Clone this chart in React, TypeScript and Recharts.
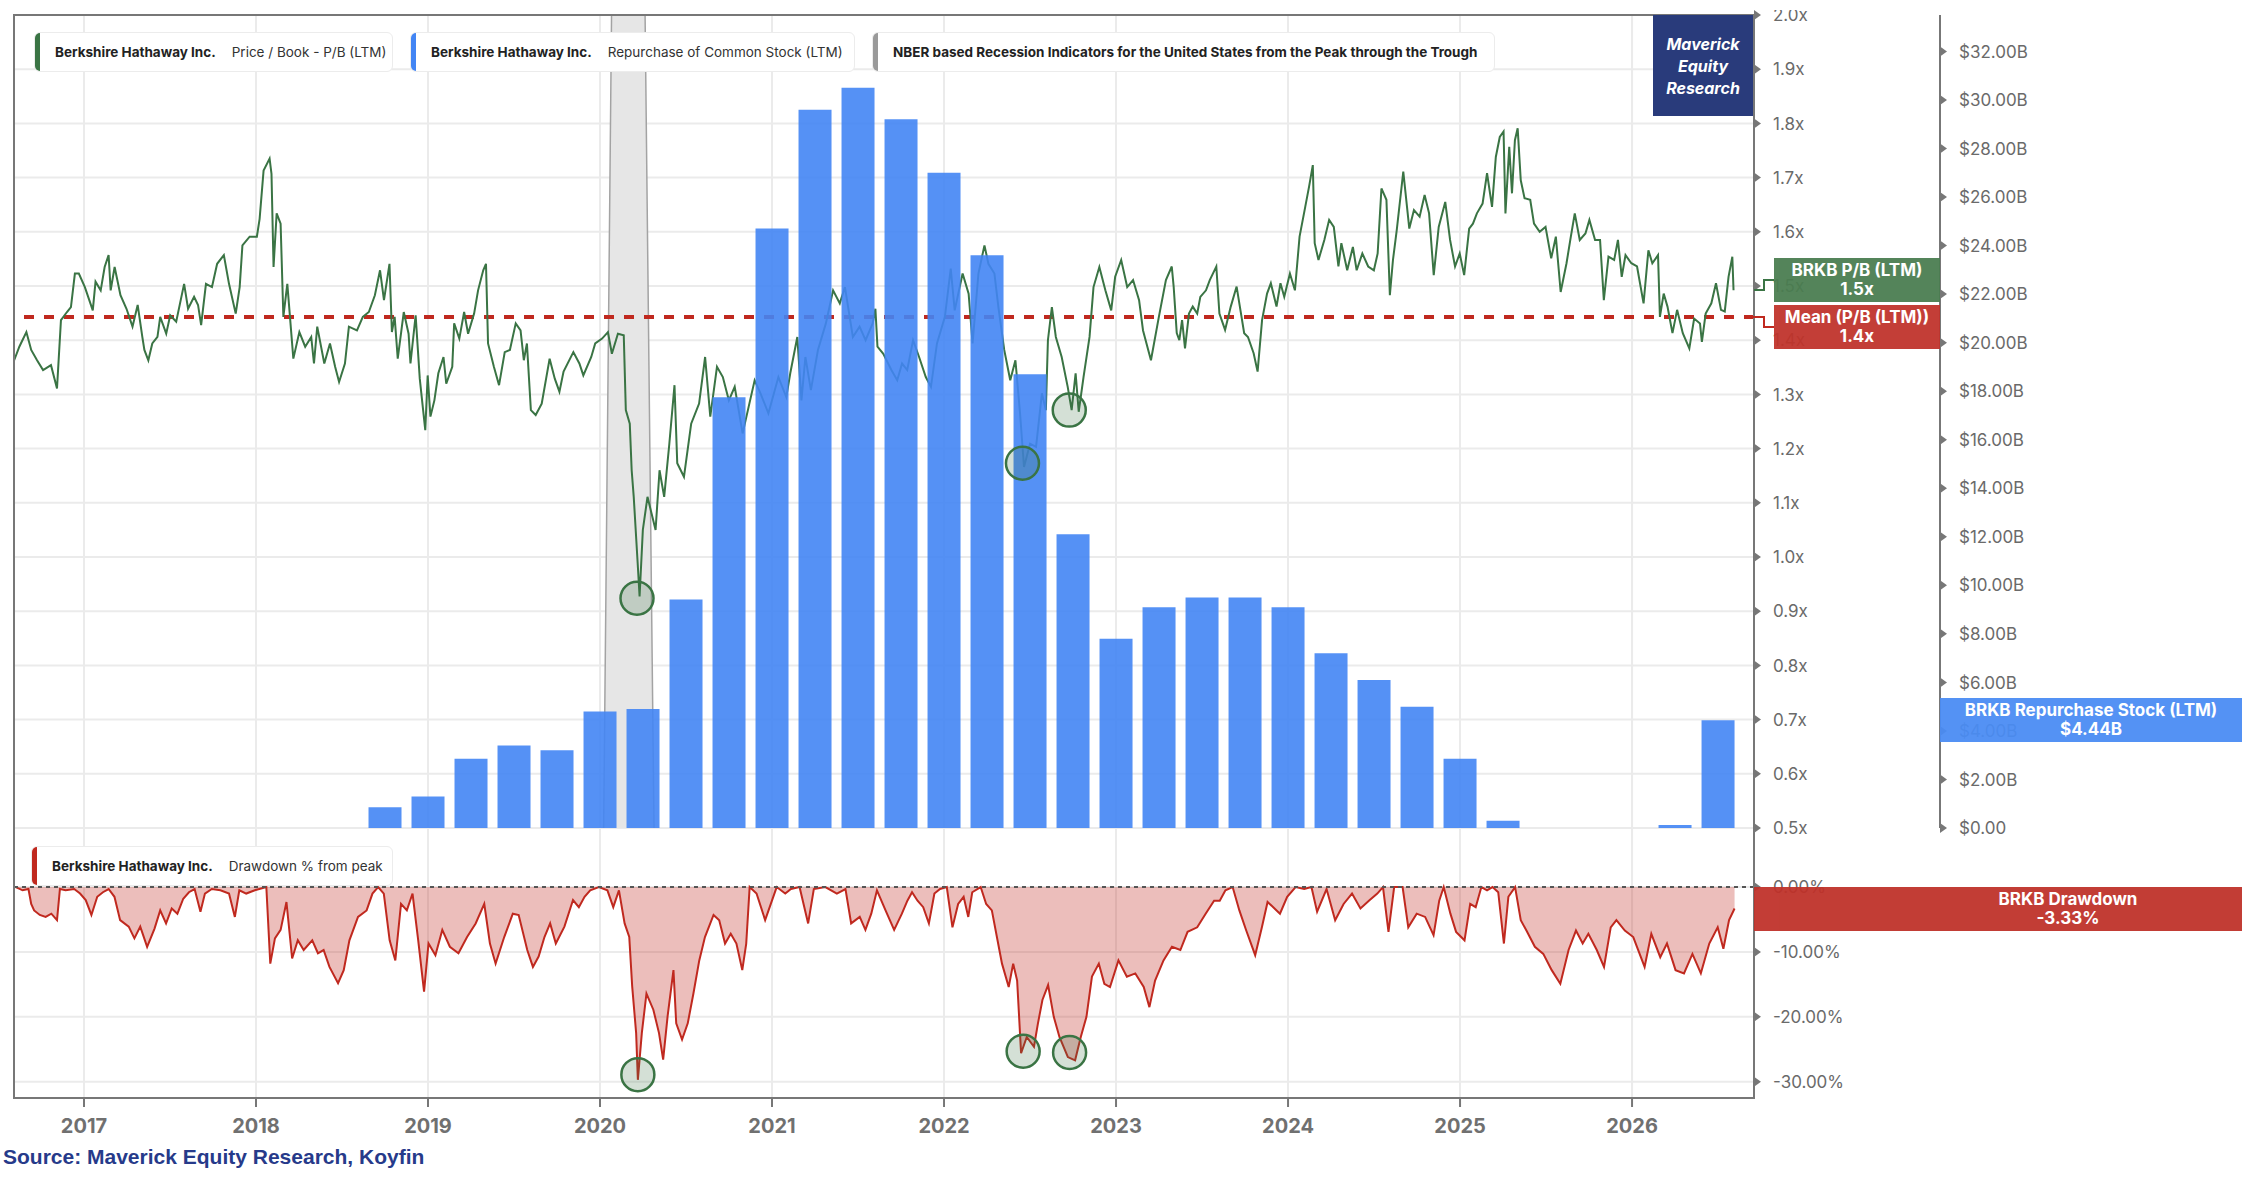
import React from "react";
import {
  ComposedChart,
  Line,
  Area,
  Bar,
  XAxis,
  YAxis,
  CartesianGrid,
  ReferenceLine,
  ReferenceDot,
} from "recharts";

// time axis is in fractional years
const xDomain: [number, number] = [2016.593, 2026.709];
const yearTicks = [2017, 2018, 2019, 2020, 2021, 2022, 2023, 2024, 2025, 2026];
const pbTicks = [0.5, 0.6, 0.7, 0.8, 0.9, 1.0, 1.1, 1.2, 1.3, 1.4, 1.5, 1.6, 1.7, 1.8, 1.9, 2.0];
const buybackTicks = [0, 2, 4, 6, 8, 10, 12, 14, 16, 18, 20, 22, 24, 26, 28, 30, 32];
const drawdownTicks = [0, -10, -20, -30];

const pbMean = 1.443;

// Price / Book (LTM)
const priceToBook: [number, number][] = [
  [2016.594, 1.363], [2016.624, 1.388], [2016.665, 1.415], [2016.693, 1.382], [2016.727, 1.363],
  [2016.762, 1.345], [2016.808, 1.354], [2016.843, 1.311], [2016.866, 1.437], [2016.901, 1.452],
  [2016.924, 1.461], [2016.947, 1.523], [2016.97, 1.523], [2017.005, 1.498], [2017.051, 1.455],
  [2017.067, 1.508], [2017.097, 1.492], [2017.12, 1.535], [2017.143, 1.557], [2017.155, 1.492],
  [2017.178, 1.535], [2017.212, 1.483], [2017.247, 1.458], [2017.282, 1.425], [2017.312, 1.465],
  [2017.339, 1.406], [2017.351, 1.382], [2017.374, 1.363], [2017.397, 1.394], [2017.427, 1.406],
  [2017.443, 1.443], [2017.478, 1.412], [2017.501, 1.446], [2017.536, 1.434], [2017.582, 1.504],
  [2017.605, 1.458], [2017.64, 1.48], [2017.663, 1.465], [2017.681, 1.428], [2017.709, 1.504],
  [2017.744, 1.498], [2017.774, 1.541], [2017.813, 1.557], [2017.843, 1.504], [2017.882, 1.449],
  [2017.905, 1.498], [2017.921, 1.575], [2017.963, 1.591], [2018.005, 1.591], [2018.021, 1.624],
  [2018.044, 1.713], [2018.079, 1.735], [2018.09, 1.707], [2018.102, 1.535], [2018.12, 1.634],
  [2018.143, 1.615], [2018.159, 1.443], [2018.182, 1.504], [2018.217, 1.366], [2018.252, 1.415],
  [2018.286, 1.388], [2018.321, 1.406], [2018.337, 1.357], [2018.356, 1.425], [2018.397, 1.357],
  [2018.43, 1.394], [2018.46, 1.351], [2018.483, 1.323], [2018.517, 1.357], [2018.54, 1.425],
  [2018.587, 1.418], [2018.621, 1.443], [2018.656, 1.452], [2018.691, 1.483], [2018.721, 1.529],
  [2018.744, 1.474], [2018.776, 1.541], [2018.79, 1.415], [2018.806, 1.443], [2018.824, 1.366],
  [2018.859, 1.452], [2018.887, 1.412], [2018.898, 1.357], [2018.928, 1.446], [2018.952, 1.329],
  [2018.984, 1.234], [2018.998, 1.335], [2019.014, 1.259], [2019.037, 1.289], [2019.06, 1.339],
  [2019.09, 1.369], [2019.106, 1.32], [2019.141, 1.351], [2019.152, 1.431], [2019.182, 1.403],
  [2019.21, 1.452], [2019.233, 1.412], [2019.268, 1.449], [2019.291, 1.492], [2019.321, 1.529],
  [2019.337, 1.541], [2019.349, 1.394], [2019.383, 1.351], [2019.413, 1.317], [2019.446, 1.378],
  [2019.476, 1.382], [2019.51, 1.431], [2019.538, 1.418], [2019.557, 1.363], [2019.575, 1.394],
  [2019.598, 1.271], [2019.626, 1.262], [2019.661, 1.283], [2019.707, 1.366], [2019.737, 1.329],
  [2019.764, 1.305], [2019.788, 1.342], [2019.845, 1.378], [2019.88, 1.357], [2019.903, 1.335],
  [2019.949, 1.369], [2019.972, 1.394], [2020.012, 1.403], [2020.046, 1.415], [2020.069, 1.375],
  [2020.104, 1.412], [2020.138, 1.409], [2020.15, 1.271], [2020.173, 1.246], [2020.184, 1.16],
  [2020.196, 1.111], [2020.219, 0.988], [2020.23, 0.927], [2020.249, 1.05], [2020.276, 1.111],
  [2020.3, 1.08], [2020.323, 1.05], [2020.346, 1.16], [2020.373, 1.111], [2020.403, 1.209],
  [2020.433, 1.317], [2020.449, 1.173], [2020.488, 1.148], [2020.53, 1.246], [2020.576, 1.283],
  [2020.611, 1.369], [2020.641, 1.259], [2020.68, 1.351], [2020.714, 1.332], [2020.749, 1.289],
  [2020.783, 1.314], [2020.829, 1.228], [2020.864, 1.277], [2020.899, 1.326], [2020.933, 1.302],
  [2020.979, 1.265], [2021.037, 1.332], [2021.083, 1.295], [2021.106, 1.339], [2021.147, 1.406],
  [2021.171, 1.289], [2021.194, 1.369], [2021.226, 1.308], [2021.267, 1.382], [2021.313, 1.431],
  [2021.355, 1.492], [2021.394, 1.468], [2021.424, 1.498], [2021.47, 1.406], [2021.509, 1.425],
  [2021.544, 1.4], [2021.585, 1.431], [2021.601, 1.458], [2021.613, 1.388], [2021.647, 1.375],
  [2021.694, 1.345], [2021.728, 1.326], [2021.756, 1.357], [2021.786, 1.345], [2021.82, 1.4],
  [2021.855, 1.369], [2021.894, 1.332], [2021.924, 1.314], [2021.959, 1.394], [2022.005, 1.443],
  [2022.039, 1.532], [2022.062, 1.455], [2022.108, 1.523], [2022.143, 1.486], [2022.166, 1.394],
  [2022.2, 1.523], [2022.235, 1.575], [2022.258, 1.541], [2022.293, 1.523], [2022.316, 1.461],
  [2022.35, 1.382], [2022.385, 1.326], [2022.415, 1.363], [2022.442, 1.265], [2022.465, 1.166],
  [2022.5, 1.209], [2022.535, 1.203], [2022.569, 1.302], [2022.592, 1.271], [2022.604, 1.4],
  [2022.627, 1.461], [2022.65, 1.406], [2022.684, 1.369], [2022.719, 1.314], [2022.742, 1.271],
  [2022.765, 1.339], [2022.783, 1.268], [2022.811, 1.332], [2022.846, 1.406], [2022.869, 1.498],
  [2022.903, 1.535], [2022.938, 1.492], [2022.972, 1.455], [2022.995, 1.517], [2023.03, 1.548],
  [2023.065, 1.498], [2023.099, 1.511], [2023.134, 1.474], [2023.157, 1.418], [2023.203, 1.363],
  [2023.249, 1.443], [2023.29, 1.511], [2023.324, 1.536], [2023.335, 1.499], [2023.353, 1.413],
  [2023.368, 1.4], [2023.384, 1.437], [2023.401, 1.385], [2023.424, 1.449], [2023.446, 1.462],
  [2023.472, 1.449], [2023.49, 1.48], [2023.523, 1.492], [2023.545, 1.511], [2023.583, 1.536],
  [2023.601, 1.449], [2023.634, 1.419], [2023.667, 1.462], [2023.701, 1.499], [2023.723, 1.456],
  [2023.745, 1.413], [2023.767, 1.406], [2023.8, 1.376], [2023.823, 1.342], [2023.849, 1.437],
  [2023.878, 1.486], [2023.9, 1.505], [2023.933, 1.462], [2023.956, 1.505], [2023.978, 1.48],
  [2024.011, 1.523], [2024.04, 1.492], [2024.067, 1.591], [2024.1, 1.646], [2024.122, 1.683],
  [2024.144, 1.723], [2024.155, 1.579], [2024.177, 1.548], [2024.211, 1.585], [2024.239, 1.622],
  [2024.266, 1.609], [2024.293, 1.536], [2024.31, 1.579], [2024.344, 1.529], [2024.377, 1.572],
  [2024.399, 1.529], [2024.432, 1.56], [2024.466, 1.536], [2024.499, 1.529], [2024.521, 1.56],
  [2024.543, 1.68], [2024.572, 1.659], [2024.592, 1.483], [2024.61, 1.548], [2024.632, 1.603],
  [2024.67, 1.711], [2024.705, 1.606], [2024.732, 1.64], [2024.765, 1.628], [2024.794, 1.668],
  [2024.82, 1.634], [2024.847, 1.52], [2024.876, 1.609], [2024.914, 1.655], [2024.942, 1.585],
  [2024.971, 1.536], [2024.998, 1.56], [2025.024, 1.52], [2025.053, 1.606], [2025.075, 1.615],
  [2025.098, 1.634], [2025.131, 1.652], [2025.157, 1.708], [2025.186, 1.646], [2025.208, 1.738],
  [2025.231, 1.775], [2025.253, 1.785], [2025.264, 1.634], [2025.286, 1.757], [2025.302, 1.671],
  [2025.319, 1.769], [2025.335, 1.791], [2025.353, 1.695], [2025.375, 1.662], [2025.408, 1.659],
  [2025.43, 1.615], [2025.463, 1.6], [2025.497, 1.609], [2025.53, 1.551], [2025.557, 1.591],
  [2025.585, 1.489], [2025.619, 1.542], [2025.641, 1.585], [2025.667, 1.634], [2025.696, 1.585],
  [2025.729, 1.597], [2025.752, 1.622], [2025.785, 1.585], [2025.814, 1.585], [2025.836, 1.474],
  [2025.863, 1.554], [2025.896, 1.548], [2025.918, 1.585], [2025.94, 1.517], [2025.962, 1.557],
  [2025.996, 1.542], [2026.029, 1.536], [2026.067, 1.468], [2026.095, 1.566], [2026.118, 1.542],
  [2026.151, 1.557], [2026.162, 1.443], [2026.184, 1.486], [2026.206, 1.462], [2026.235, 1.413],
  [2026.262, 1.456], [2026.295, 1.413], [2026.333, 1.385], [2026.361, 1.44], [2026.395, 1.431],
  [2026.406, 1.397], [2026.428, 1.449], [2026.461, 1.468], [2026.488, 1.505], [2026.517, 1.456],
  [2026.539, 1.453], [2026.561, 1.517], [2026.583, 1.554], [2026.59, 1.492],
];

// NBER recession indicator (0 / 1)
const recession: [number, number][] = [
  [2020.021, 0], [2020.067, 1], [2020.262, 1], [2020.314, 0],
];

// Repurchase of common stock, LTM, $B, at quarter ends
const buybackDates = [
  2018.75, 2019.0, 2019.25, 2019.5, 2019.75, 2020.0, 2020.25, 2020.5, 2020.75, 2021.0, 2021.25,
  2021.5, 2021.75, 2022.0, 2022.25, 2022.5, 2022.75, 2023.0, 2023.25, 2023.5, 2023.75, 2024.0,
  2024.25, 2024.5, 2024.75, 2025.0, 2025.25, 2025.5, 2025.75, 2026.0, 2026.25, 2026.5,
];
const buybackValues = [
  0.85, 1.3, 2.85, 3.4, 3.2, 4.8, 4.9, 9.42, 17.75, 24.7, 29.6, 30.5, 29.2, 27.0, 23.6, 18.7,
  12.1, 7.8, 9.1, 9.5, 9.5, 9.1, 7.2, 6.1, 5.0, 2.85, 0.3, 0, 0, 0, 0.12, 4.44,
];

// Drawdown % from peak
const drawdown: [number, number][] = [
  [2016.603, 0], [2016.643, -0.5], [2016.677, -0.3], [2016.693, -2.6], [2016.71, -3.6],
  [2016.743, -4.3], [2016.777, -4.6], [2016.81, -4.1], [2016.843, -5.1], [2016.86, -0.3],
  [2016.893, -0.5], [2016.943, -0.3], [2016.977, -1.0], [2017.01, -2.0], [2017.043, -4.3],
  [2017.077, -1.5], [2017.11, -0.8], [2017.143, -0.3], [2017.177, -1.5], [2017.21, -5.1],
  [2017.26, -6.1], [2017.293, -7.9], [2017.327, -6.1], [2017.367, -9.2], [2017.41, -6.4],
  [2017.443, -3.6], [2017.477, -5.6], [2017.51, -3.3], [2017.543, -4.1], [2017.577, -1.8],
  [2017.61, -0.8], [2017.643, -0.3], [2017.677, -3.8], [2017.703, -1.0], [2017.743, -0.3],
  [2017.793, -0.5], [2017.843, -1.0], [2017.877, -4.6], [2017.903, -0.5], [2017.943, -1.0],
  [2017.993, -0.5], [2018.06, 0], [2018.083, -11.8], [2018.11, -7.9], [2018.143, -6.6],
  [2018.177, -2.3], [2018.21, -11.0], [2018.243, -8.2], [2018.277, -9.7], [2018.327, -8.2],
  [2018.36, -10.2], [2018.393, -9.7], [2018.427, -12.3], [2018.477, -14.8], [2018.51, -12.8],
  [2018.543, -8.2], [2018.593, -4.6], [2018.643, -3.6], [2018.677, -1.0], [2018.71, 0],
  [2018.743, -1.0], [2018.777, -8.2], [2018.81, -11.3], [2018.843, -2.6], [2018.877, -3.6],
  [2018.91, -1.0], [2018.943, -8.2], [2018.977, -16.1], [2019.003, -8.7], [2019.043, -10.5],
  [2019.083, -6.6], [2019.127, -9.2], [2019.177, -10.2], [2019.227, -7.7], [2019.277, -5.6],
  [2019.327, -2.6], [2019.36, -8.7], [2019.393, -11.8], [2019.443, -7.7], [2019.493, -4.1],
  [2019.527, -4.3], [2019.577, -9.7], [2019.61, -12.3], [2019.643, -10.7], [2019.677, -7.7],
  [2019.71, -5.6], [2019.743, -8.7], [2019.793, -6.1], [2019.843, -2.0], [2019.877, -3.1],
  [2019.91, -1.5], [2019.943, -0.5], [2019.993, 0], [2020.043, -0.5], [2020.077, -3.1],
  [2020.11, -0.5], [2020.143, -5.6], [2020.17, -7.7], [2020.187, -15.3], [2020.21, -22.5],
  [2020.22, -29.7], [2020.243, -22.5], [2020.27, -16.4], [2020.31, -18.9], [2020.343, -22.5],
  [2020.367, -26.6], [2020.393, -19.9], [2020.427, -12.8], [2020.443, -21.0], [2020.477, -23.5],
  [2020.51, -21.0], [2020.543, -16.4], [2020.577, -11.3], [2020.61, -7.7], [2020.66, -4.3],
  [2020.693, -5.1], [2020.727, -8.7], [2020.76, -7.2], [2020.793, -8.7], [2020.827, -12.8],
  [2020.85, -8.7], [2020.87, 0], [2020.91, -1.0], [2020.96, -5.1], [2020.993, -2.6],
  [2021.027, 0], [2021.077, -1.0], [2021.11, -0.3], [2021.16, 0], [2021.21, -5.6],
  [2021.243, -0.3], [2021.31, 0], [2021.377, -1.0], [2021.427, -0.3], [2021.46, -5.6],
  [2021.51, -4.6], [2021.543, -6.6], [2021.577, -4.1], [2021.61, -0.5], [2021.66, -3.6],
  [2021.71, -6.6], [2021.755, -4.1], [2021.787, -2.1], [2021.814, -0.8], [2021.846, -2.1],
  [2021.879, -3.1], [2021.912, -5.6], [2021.944, -1.0], [2021.977, -0.3], [2022.016, 0],
  [2022.049, -6.2], [2022.082, -2.6], [2022.114, -1.5], [2022.141, -4.6], [2022.164, -0.8],
  [2022.213, 0], [2022.245, -2.6], [2022.278, -3.6], [2022.311, -8.2], [2022.337, -11.8],
  [2022.376, -15.4], [2022.402, -11.8], [2022.425, -14.4], [2022.448, -25.6], [2022.481, -23.1],
  [2022.523, -24.6], [2022.546, -21.0], [2022.572, -17.4], [2022.605, -15.1], [2022.638, -20.0],
  [2022.671, -23.1], [2022.72, -26.2], [2022.762, -26.7], [2022.795, -23.1], [2022.828, -20.0],
  [2022.86, -13.8], [2022.9, -11.8], [2022.932, -14.9], [2022.965, -15.4], [2023.014, -11.3],
  [2023.063, -13.8], [2023.112, -13.3], [2023.161, -15.4], [2023.194, -18.5], [2023.227, -14.4],
  [2023.276, -11.3], [2023.325, -9.2], [2023.374, -9.7], [2023.416, -6.9], [2023.472, -6.2],
  [2023.521, -4.1], [2023.57, -2.1], [2023.603, -2.1], [2023.636, -0.5], [2023.678, 0],
  [2023.717, -3.6], [2023.757, -6.7], [2023.809, -10.5], [2023.848, -6.2], [2023.881, -2.3],
  [2023.914, -3.1], [2023.953, -4.1], [2023.995, -1.5], [2024.044, 0], [2024.094, -0.3],
  [2024.136, 0], [2024.169, -3.8], [2024.224, -0.3], [2024.274, -5.1], [2024.323, -2.6],
  [2024.372, -1.0], [2024.421, -3.3], [2024.47, -2.1], [2024.519, -1.0], [2024.552, 0],
  [2024.584, -6.9], [2024.617, 0], [2024.666, 0], [2024.699, -6.2], [2024.748, -4.1],
  [2024.797, -4.6], [2024.846, -7.4], [2024.879, -2.1], [2024.905, 0], [2024.944, -4.1],
  [2024.977, -6.9], [2025.026, -8.2], [2025.059, -2.6], [2025.091, -3.1], [2025.124, 0],
  [2025.157, -0.5], [2025.189, 0], [2025.222, -0.8], [2025.255, -8.7], [2025.281, -1.5],
  [2025.32, 0], [2025.353, -5.1], [2025.386, -6.7], [2025.435, -9.2], [2025.484, -10.3],
  [2025.533, -12.8], [2025.583, -14.9], [2025.631, -9.7], [2025.674, -6.7], [2025.713, -8.7],
  [2025.746, -7.2], [2025.795, -9.7], [2025.837, -12.3], [2025.876, -6.2], [2025.909, -5.1],
  [2025.958, -6.7], [2026.007, -7.7], [2026.073, -12.3], [2026.112, -7.2], [2026.164, -10.8],
  [2026.203, -8.7], [2026.253, -12.8], [2026.302, -13.3], [2026.351, -10.3], [2026.4, -13.3],
  [2026.449, -8.7], [2026.498, -6.2], [2026.531, -9.5], [2026.564, -5.1], [2026.596, -3.3],
];

// marked lows
const pbLows: [number, number][] = [[2020.215, 0.924], [2022.456, 1.173], [2022.728, 1.271]];
const drawdownLows: [number, number][] = [[2020.22, -28.9], [2022.46, -25.3], [2022.73, -25.5]];

const GREEN = "#3a7444";
const RED = "#c0291f";
const BLUE = "#4285f4";
const AXIS = "#777";
const GRID = "#ebebeb";
const FONT = "Inter, 'Noto Sans', sans-serif";

// axis ids: right-hand axes are stacked in id order, P/B next to the plot
const PB = "a-pb";
const USD = "b-usd";

const mainRows = [
  ...priceToBook.map(([t, pb]) => ({ t, pb })),
  ...recession.map(([t, rec]) => ({ t, rec })),
].sort((a, b) => a.t - b.t);

const barRows = buybackDates.map((t, i) => ({ t, buy: buybackValues[i] }));
const ddRows = drawdown.map(([t, dd]) => ({ t, dd }));

const fmtPb = (v: number) => `${v.toFixed(1)}x`;
const fmtBuy = (v: number) => (v === 0 ? "$0.00" : `$${v.toFixed(2)}B`);
const fmtDd = (v: number) => `${v.toFixed(2)}%`;

function ArrowTick(props: any) {
  const { x, y, payload, format } = props;
  return (
    <g transform={`translate(${x},${y})`}>
      <path d="M0,-5L7,0L0,5Z" fill={AXIS} />
      <text x={19} y={0} dy="0.36em" fill="#6a6a6a" fontSize={17} fontFamily={FONT}>
        {format(payload.value)}
      </text>
    </g>
  );
}

function YearTick(props: any) {
  const { x, y, payload } = props;
  return (
    <text x={x} y={y + 19} dy="0.36em" textAnchor="middle" fill="#707070" fontSize={20} fontWeight={700} fontFamily={FONT}>
      {payload.value}
    </text>
  );
}

function Chip({ left, top, width, color, name, metric }: any) {
  return (
    <div
      style={{
        position: "absolute", left, top, width, height: 40, boxSizing: "border-box",
        background: "#fff", border: "1.5px solid #ececec", borderRadius: 6,
        display: "flex", alignItems: "center", paddingLeft: 20, gap: 16,
        fontFamily: FONT, fontSize: 13.5, color: "#222", whiteSpace: "nowrap", overflow: "hidden",
      }}
    >
      <div style={{ position: "absolute", left: -1, top: -1, bottom: -1, width: 6, background: color, borderRadius: "5px 0 0 5px" }} />
      <span style={{ fontWeight: 700 }}>{name}</span>
      {metric && <span style={{ color: "#333" }}>{metric}</span>}
    </div>
  );
}

function Tag({ left, top, width, bg, lines }: any) {
  return (
    <div
      style={{
        position: "absolute", left, top, width, height: 44, background: bg, opacity: 0.94, color: "#fff",
        fontFamily: FONT, fontWeight: 700, fontSize: 17, lineHeight: "19px", textAlign: "center",
        display: "flex", flexDirection: "column", justifyContent: "center",
      }}
    >
      {lines.map((l: string) => <div key={l}>{l}</div>)}
    </div>
  );
}

const upperMargin = { top: 15, right: 0, bottom: 22, left: 14 };

export default function App() {
  return (
    <div style={{ position: "absolute", left: 0, top: 0, width: 2242, height: 1185, overflow: "hidden", background: "#fff" }}>
      {/* upper panel, clipped at the top like the original */}
      <div style={{ position: "absolute", left: 0, top: 10, width: 2242, height: 840, overflow: "hidden" }}>
        <div style={{ position: "absolute", left: 0, top: -10 }}>
          <ComposedChart width={2242} height={850} data={mainRows} margin={upperMargin}>
            <XAxis dataKey="t" type="number" domain={xDomain} ticks={yearTicks} allowDataOverflow hide />
            <YAxis
              yAxisId={PB} orientation="right" width={186} type="number" domain={[0.5, 2.0]}
              ticks={pbTicks} interval={0} tickSize={0} tickMargin={0} tickLine={false}
              axisLine={{ stroke: AXIS, strokeWidth: 2 }}
              tick={(p: any) => <ArrowTick {...p} format={fmtPb} />}
              allowDataOverflow
            />
            <YAxis
              yAxisId={USD} orientation="right" width={302} type="number" domain={[0, 33.5]}
              ticks={buybackTicks} interval={0} tickSize={0} tickMargin={0} tickLine={false}
              axisLine={{ stroke: AXIS, strokeWidth: 2 }}
              tick={(p: any) => <ArrowTick {...p} format={fmtBuy} />}
              allowDataOverflow
            />
            <YAxis yAxisId="rec" hide domain={[0, 1]} />
            <CartesianGrid yAxisId={PB} stroke={GRID} strokeWidth={2} />
            <Area
              yAxisId="rec" dataKey="rec" type="linear" connectNulls fill="#e6e6e6" fillOpacity={1}
              stroke="#a3a3a3" strokeWidth={1.5} baseValue={0} dot={false} activeDot={false}
              isAnimationActive={false}
            />
            <ReferenceLine yAxisId={PB} y={pbMean} stroke={RED} strokeWidth={4} strokeDasharray="10 10" />
            <Line
              yAxisId={PB} dataKey="pb" type="linear" connectNulls stroke={GREEN} strokeWidth={2}
              dot={false} activeDot={false} isAnimationActive={false}
            />
          </ComposedChart>
        </div>
        <div style={{ position: "absolute", left: 0, top: -10 }}>
          <ComposedChart width={2242} height={850} data={barRows} margin={upperMargin}>
            <XAxis dataKey="t" type="number" domain={xDomain} ticks={yearTicks} allowDataOverflow hide />
            <YAxis yAxisId={PB} orientation="right" width={186} type="number" domain={[0.5, 2.0]} tick={false} axisLine={false} tickLine={false} allowDataOverflow />
            <YAxis yAxisId={USD} orientation="right" width={302} type="number" domain={[0, 33.5]} tick={false} axisLine={false} tickLine={false} allowDataOverflow />
            <Bar yAxisId={USD} dataKey="buy" barSize={33} fill={BLUE} fillOpacity={0.9} isAnimationActive={false} />
            {pbLows.map(([t, v]) => (
              <ReferenceDot
                key={t} yAxisId={PB} x={t} y={v} r={16.5} fill={GREEN} fillOpacity={0.22}
                stroke={GREEN} strokeWidth={2.5}
              />
            ))}
          </ComposedChart>
        </div>
      </div>

      {/* drawdown panel */}
      <div style={{ position: "absolute", left: 0, top: 828 }}>
        <ComposedChart width={2242} height={357} data={ddRows} margin={{ top: 0, right: 302, bottom: 47, left: 14 }}>
          <XAxis
            dataKey="t" type="number" domain={xDomain} ticks={yearTicks} interval={0} allowDataOverflow
            height={40} tickSize={9} tickMargin={0} tickLine={{ stroke: AXIS, strokeWidth: 2 }}
            axisLine={{ stroke: AXIS, strokeWidth: 2 }} tick={(p: any) => <YearTick {...p} />}
          />
          <YAxis
            yAxisId="dd" orientation="right" width={186} type="number" domain={[-32.5, 9.1]}
            ticks={drawdownTicks} interval={0} tickSize={0} tickMargin={0} tickLine={false}
            axisLine={{ stroke: AXIS, strokeWidth: 2 }}
            tick={(p: any) => <ArrowTick {...p} format={fmtDd} />}
            allowDataOverflow
          />
          <CartesianGrid yAxisId="dd" stroke={GRID} strokeWidth={2} />
          <Area
            yAxisId="dd" dataKey="dd" type="linear" baseValue={0} stroke={RED} strokeWidth={2}
            fill={RED} fillOpacity={0.3} dot={false} activeDot={false} isAnimationActive={false}
          />
          <ReferenceLine yAxisId="dd" y={0} stroke="#555" strokeWidth={2} strokeDasharray="4 4" />
          {drawdownLows.map(([t, v]) => (
            <ReferenceDot
              key={t} yAxisId="dd" x={t} y={v} r={16.5} fill={GREEN} fillOpacity={0.22}
              stroke={GREEN} strokeWidth={2.5}
            />
          ))}
        </ComposedChart>
      </div>

      {/* frame */}
      <div style={{ position: "absolute", left: 13, top: 14, width: 1742, height: 1085, border: `2px solid ${AXIS}`, boxSizing: "border-box", pointerEvents: "none" }} />

      {/* legends */}
      <Chip left={34} top={32} width={359} color={GREEN} name="Berkshire Hathaway Inc." metric="Price / Book - P/B (LTM)" />
      <Chip left={410} top={32} width={445} color={BLUE} name="Berkshire Hathaway Inc." metric="Repurchase of Common Stock (LTM)" />
      <Chip left={872} top={32} width={623} color="#9a9a9a" name="NBER based Recession Indicators for the United States from the Peak through the Trough" />
      <Chip left={31} top={846} width={362} color={RED} name="Berkshire Hathaway Inc." metric="Drawdown % from peak" />

      <div
        style={{
          position: "absolute", left: 1653, top: 15, width: 100, height: 101, background: "#293b7b",
          color: "#fff", fontFamily: FONT, fontStyle: "italic", fontWeight: 700, fontSize: 16,
          lineHeight: "22px", textAlign: "center", display: "flex", flexDirection: "column", justifyContent: "center",
        }}
      >
        <div>Maverick</div>
        <div>Equity</div>
        <div>Research</div>
      </div>

      {/* last value tags */}
      <svg style={{ position: "absolute", left: 0, top: 0 }} width={2242} height={1185}>
        <polyline points="1754,290 1764,290 1764,280 1774,280" fill="none" stroke={GREEN} strokeWidth={2} />
        <polyline points="1746,317 1764,317 1764,327 1774,327" fill="none" stroke={RED} strokeWidth={2} />
      </svg>
      <Tag left={1774} top={258} width={166} bg="#4a7d50" lines={["BRKB P/B (LTM)", "1.5x"]} />
      <Tag left={1774} top={305} width={166} bg="#c0332b" lines={["Mean (P/B (LTM))", "1.4x"]} />
      <Tag left={1940} top={698} width={302} bg="#4a8cf4" lines={["BRKB Repurchase Stock (LTM)", "$4.44B"]} />
      <Tag left={1754} top={887} width={628} bg="#bf3129" lines={["BRKB Drawdown", "-3.33%"]} />

      <div
        style={{
          position: "absolute", left: 3, top: 1145, fontFamily: "'Liberation Sans', Arial, sans-serif",
          fontWeight: 700, fontSize: 21, color: "#263a8a", whiteSpace: "nowrap",
        }}
      >
        Source: Maverick Equity Research, Koyfin
      </div>
    </div>
  );
}
